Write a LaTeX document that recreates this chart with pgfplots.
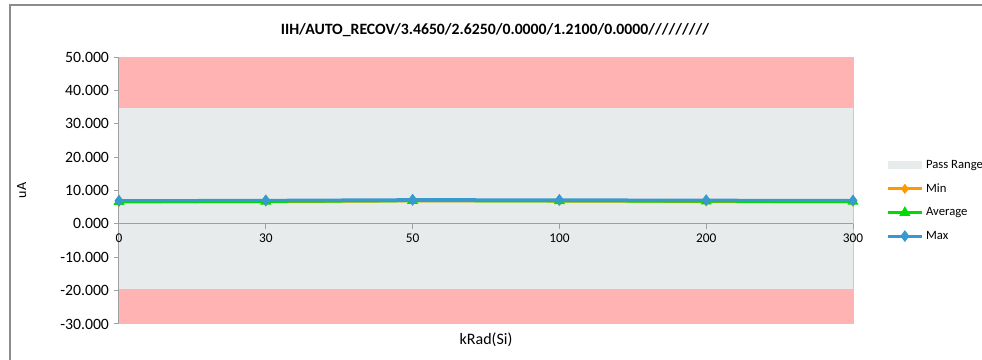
\documentclass[border=0pt]{standalone}
\usepackage{pgfplots}
\pgfplotsset{compat=1.18}
\usepackage{fontspec}
\setmainfont{Carlito}
\definecolor{bandred}{RGB}{255,179,179}
\definecolor{passgray}{RGB}{231,235,235}
\definecolor{maxblue}{RGB}{55,153,206}
\definecolor{minorange}{RGB}{255,153,0}
\definecolor{avggreen}{RGB}{0,220,0}
\definecolor{axgray}{RGB}{160,160,160}
\definecolor{framegray}{RGB}{140,140,140}
\begin{document}
\begin{tikzpicture}
\useasboundingbox (-89.25pt,-27pt) rectangle (647.25pt,243pt);
\draw[framegray, line width=0.9pt] (-81.75pt,-30pt) -- (-81.75pt,239.25pt) -- (650pt,239.25pt);
\begin{axis}[at={(0,0)}, anchor=south west,
  scale only axis, width=550.5pt, height=200.25pt,
  xmin=0, xmax=5, ymin=-30, ymax=50,
  axis x line=middle, axis y line=left,
  axis line style={-, axgray, line width=0.75pt},
  hide obscured x ticks=false, hide obscured y ticks=false,
  tick align=outside, major tick length=4pt,
  tick style={axgray, line width=0.75pt},
  xtick={0,1,2,3,4,5}, xticklabels={0,30,50,100,200,300},
  ytick={-30,-20,-10,0,10,20,30,40,50},
  yticklabels={-30.000,-20.000,-10.000,0.000,10.000,20.000,30.000,40.000,50.000},
  yticklabel style={font=\fontsize{11.8}{13}\selectfont},
  xticklabel style={font=\fontsize{10}{12}\selectfont},
  axis on top,
  clip=false,
  legend cell align=left,
  legend style={at={(rel axis cs:1.045,0.625)}, anchor=north west, draw=none, fill=none,
    font=\fontsize{9.5}{11}\selectfont, row sep=6pt, inner sep=0pt},
  legend image code/.code={\draw[mark repeat=2,mark phase=2] plot coordinates {(0cm,0cm) (0.45cm,0cm) (0.9cm,0cm)};},
]
\addplot[fill=bandred, draw=none, forget plot] coordinates {(0,34.65) (5,34.65) (5,50) (0,50)} -- cycle;
\addplot[fill=bandred, draw=none, forget plot] coordinates {(0,-30) (5,-30) (5,-19.4) (0,-19.4)} -- cycle;
\addplot[fill=passgray, draw=none,
  legend image code/.code={\fill[passgray] (0cm,-3pt) rectangle (0.9cm,3pt);}]
  coordinates {(0,-19.4) (5,-19.4) (5,34.65) (0,34.65)} -- cycle;
\addlegendentry{Pass Range}
\addplot[bandred, line width=0.4pt, forget plot] coordinates {(5,-30) (5,50)};
\addplot[minorange, line width=2.25pt, mark=diamond*, mark size=2pt, mark options={solid}]
  coordinates {(0,6.6) (1,6.7) (2,6.9) (3,6.85) (4,6.75) (5,6.65)};
\addlegendentry{Min}
\addplot[avggreen, line width=2.25pt, mark=triangle*, mark size=2.6pt, mark options={solid}]
  coordinates {(0,6.65) (1,6.75) (2,6.95) (3,6.9) (4,6.8) (5,6.7)};
\addlegendentry{Average}
\addplot[maxblue, line width=2.25pt, mark=diamond*, mark size=2.6pt, mark options={solid}]
  coordinates {(0,6.95) (1,7.05) (2,7.25) (3,7.2) (4,7.1) (5,7.0)};
\addlegendentry{Max}
\end{axis}
\node[font=\bfseries\fontsize{11.8}{14}\selectfont] at (282pt,220.5pt) {IIH/AUTO\_RECOV/3.4650/2.6250/0.0000/1.2100/0.0000/////////};
\node[font=\fontsize{12}{14}\selectfont] at (275.25pt,-12pt) {kRad(Si)};
\node[font=\fontsize{10.5}{12}\selectfont, rotate=90] at (-73pt,100.125pt) {uA};
\end{tikzpicture}
\end{document}
